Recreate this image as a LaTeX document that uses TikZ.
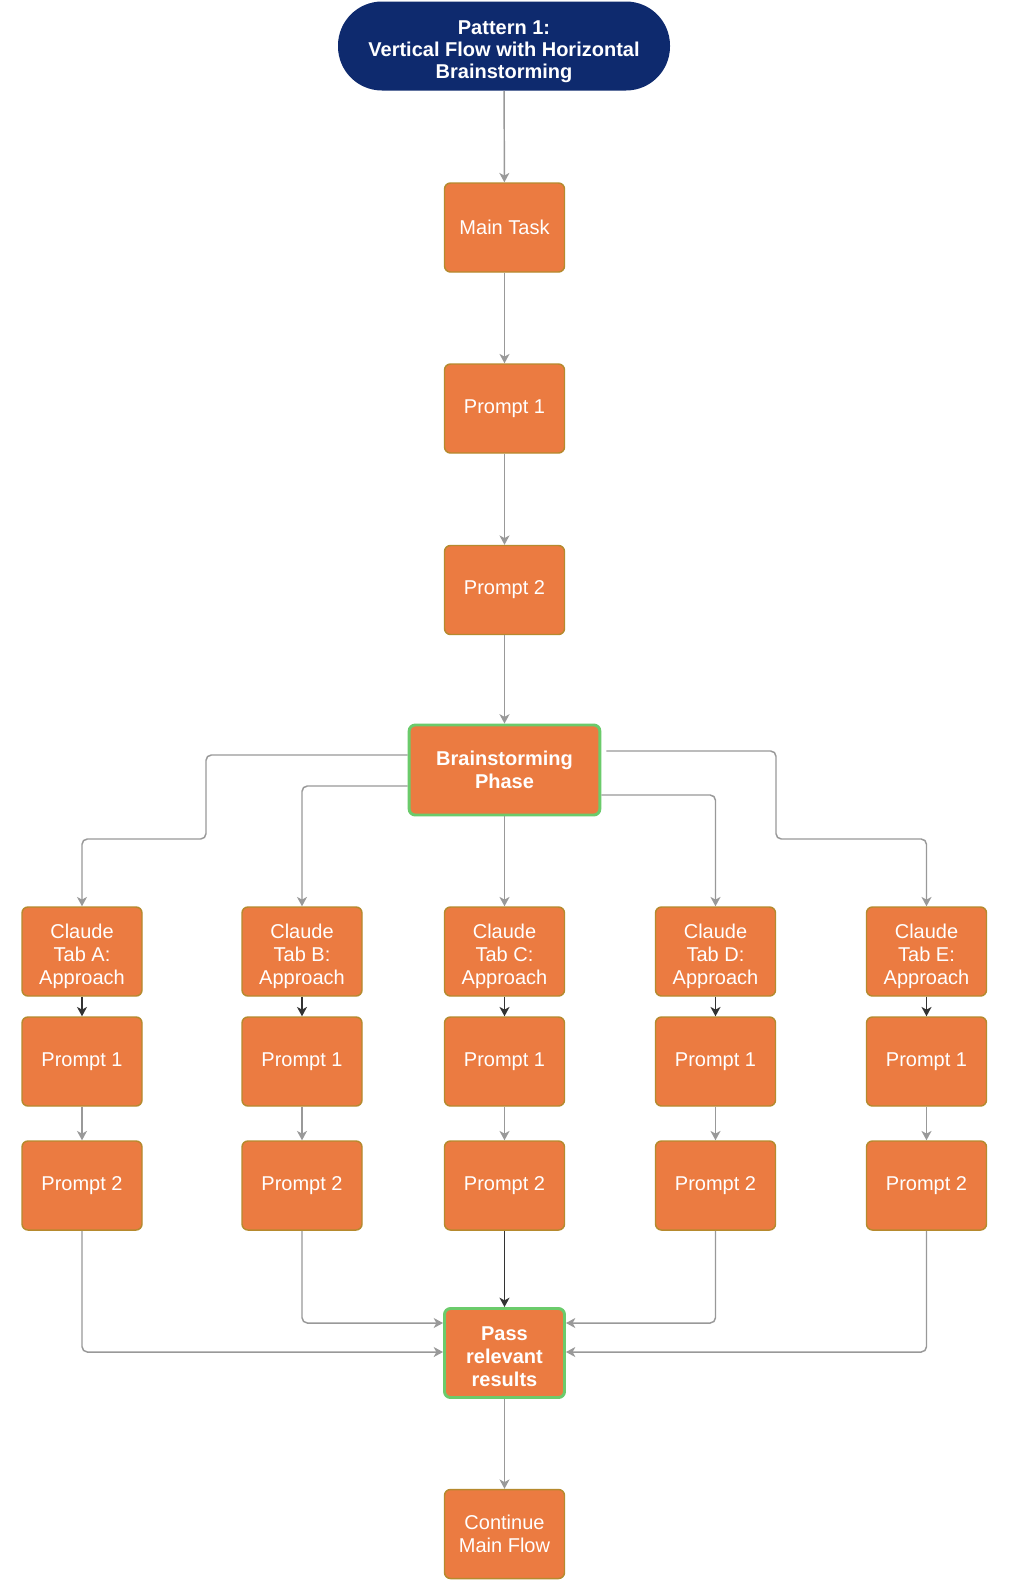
\documentclass[tikz,border=0pt]{standalone}
\usepackage{fontspec}
\setmainfont{Liberation Sans}
\usetikzlibrary{arrows.meta}
\definecolor{orangefill}{HTML}{EB7B41}
\definecolor{goldborder}{HTML}{B68A2E}
\definecolor{greenborder}{HTML}{6BCB6B}
\definecolor{navyfill}{HTML}{0E2A6E}
\definecolor{linegray}{HTML}{999999}
\definecolor{darkline}{HTML}{333333}
\begin{document}
\begin{tikzpicture}[x=0.75pt,y=-0.75pt,
  box/.style={draw=goldborder, fill=orangefill, line width=1.1pt, rounded corners=4.5pt,
    minimum width=90pt, minimum height=66.75pt, text=white,
    font=\fontsize{15}{17.25}\selectfont, align=center, inner sep=0pt},
  keybox/.style={box, draw=greenborder, line width=2.2pt,
    font=\fontsize{15}{17.25}\selectfont\bfseries},
  titlebox/.style={fill=navyfill, rounded corners=33pt, minimum width=249pt,
    minimum height=66.75pt, text=white, align=center, inner sep=0pt,
    font=\fontsize{15}{16.5}\selectfont\bfseries},
  conn/.style={draw=linegray, line width=1.1pt, rounded corners=4pt,
    -{Stealth[length=7pt,width=7.5pt,inset=2pt]}},
  darkconn/.style={conn, draw=darkline},
]
\useasboundingbox (0,0) rectangle (1012,1582);
\fill[white] (0,0) rectangle (1012,1582);

\node[titlebox] (title) at (504,46) {\rule{0pt}{18.5pt}Pattern 1:\\Vertical Flow with Horizontal\\Brainstorming};
\node[box] (main) at (504.5,227.5) {Main Task};
\node[box] (mp1) at (504.5,408.5) {Prompt 1};
\node[box] (mp2) at (504.5,590) {Prompt 2};
\node[keybox, minimum width=143pt, minimum height=67.5pt] (brain) at (504.5,770) {Brainstorming\\Phase};

\foreach \n/\x/\l in {A/82/A, B/302/B, C/504.5/C, D/715.5/D, E/926.5/E}{
  \node[box] (t\n) at (\x,951.5) {\rule{0pt}{18pt}Claude\\Tab \l:\\Approach};
  \node[box] (p\n1) at (\x,1061.5) {Prompt 1};
  \node[box] (p\n2) at (\x,1185.5) {Prompt 2};
  \draw[darkconn] (t\n) -- (p\n1);
  \draw[conn] (p\n1) -- (p\n2);
}

\node[keybox] (pass) at (504.5,1353) {\rule{0pt}{16pt}Pass\\relevant\\results};
\node[box] (cont) at (504.5,1534) {Continue\\Main Flow};

\draw[conn] (title) -- (main);
\draw[conn] (main) -- (mp1);
\draw[conn] (mp1) -- (mp2);
\draw[conn] (mp2) -- (brain);

\draw[conn] (brain.west |- 0,755) -| (206,839) -| (tA.north);
\draw[conn] (brain.west |- 0,786) -| (tB.north);
\draw[conn] (brain) -- (tC);
\draw[conn] (brain.east |- 0,795) -| (tD.north);
\draw[conn] (brain.east |- 0,751) ++(5,0) -| (776,839) -| (tE.north);

\draw[conn] (pA2.south) |- (pass.west |- 0,1352);
\draw[conn] (pB2.south) |- (pass.west |- 0,1323);
\draw[darkconn] (pC2) -- (pass);
\draw[conn] (pD2.south) |- (pass.east |- 0,1323);
\draw[conn] (pE2.south) |- (pass.east |- 0,1352);
\draw[conn] (pass) -- (cont);
\end{tikzpicture}
\end{document}
